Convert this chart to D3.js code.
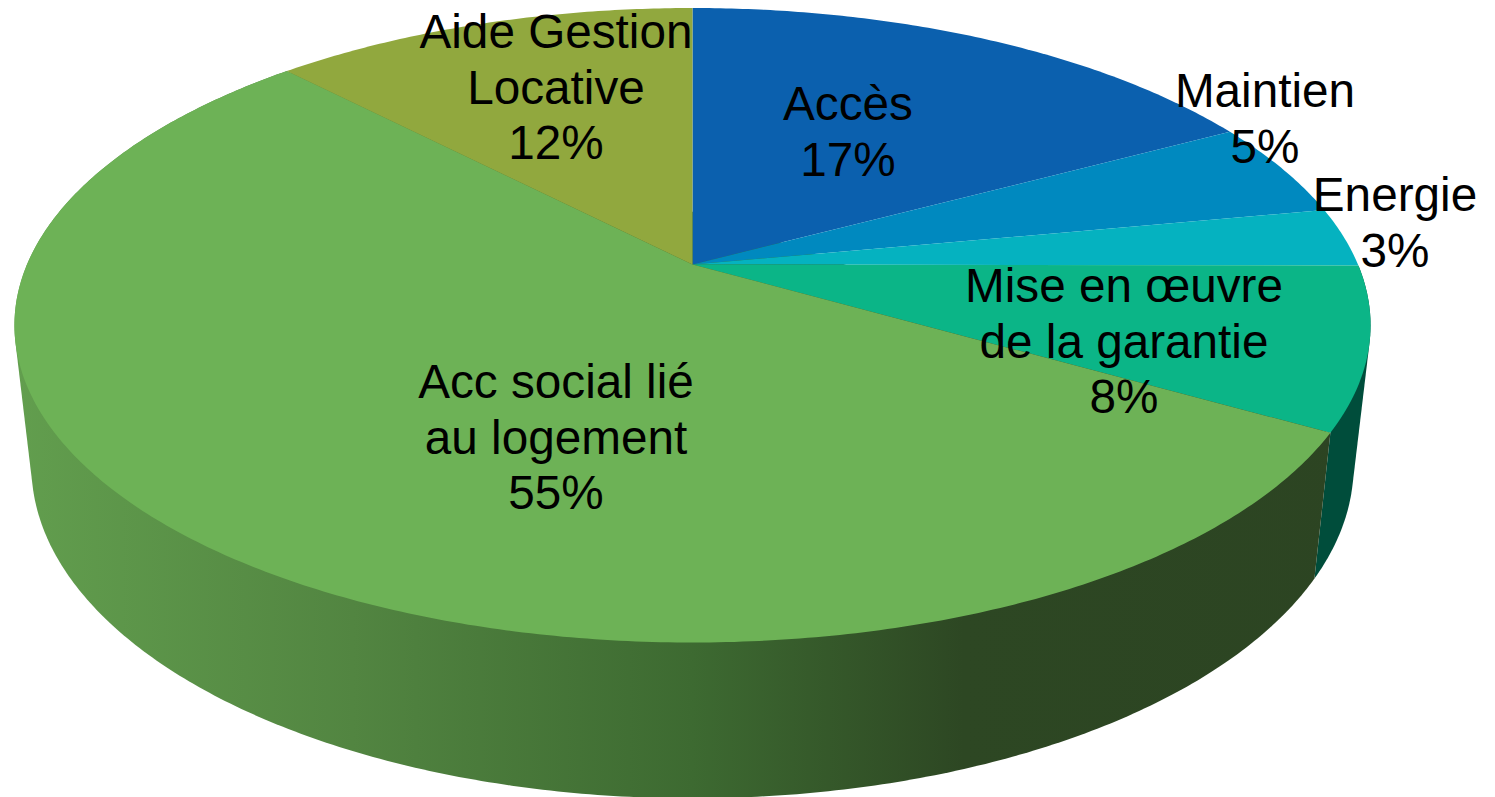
<!DOCTYPE html>
<html>
<head>
<meta charset="utf-8">
<script src="https://cdn.jsdelivr.net/npm/d3@7"></script>
<style>
  html, body { margin: 0; padding: 0; background: #fff; overflow: hidden; }
  text { font-family: "Liberation Sans", Arial, sans-serif; font-size: 47.7px; fill: #000; }
</style>
</head>
<body>
<div id="chart"></div>
<script>
// chart data (labels show them rounded)
var categories = ["Accès", "Maintien", "Energie", "Mise en œuvre de la garantie", "Acc social lié au logement", "Aide Gestion Locative"];
var values = [17.15, 4.9, 3.0, 8.25, 54.5, 12.2];
var labelLines = [["Accès"], ["Maintien"], ["Energie"], ["Mise en œuvre", "de la garantie"], ["Acc social lié", "au logement"], ["Aide Gestion", "Locative"]];

// styles
var topColors = ["#0b60ae", "#0089bf", "#05b2c0", "#0bb587", "#6db256", "#91a83e"];
var labelPos = [[848, 120], [1265, 107], [1395, 211], [1124, 302], [556, 398], [556, 48]];

// setup dimensions
var width = 1495,
    height = 797,
    lineHeight = 55.5;

// perspective disc: centre of the pie sits above the centre of the ellipse
var cx = 692.5,
    cy = 264.5,
    a = 665.5,
    b = 305.6,
    k = 0.1915;

// wall bottom rim, mapped from the top rim
var bottomScale = 0.975,
    bottomY = 1.048,
    bottomOff = 125;

function rim(t) {
  var u = Math.sin(t), v = -Math.cos(t), w = 1 - k * v;
  return [cx + a * u / w, cy + b * v / w];
}
function bottom(t) {
  var p = rim(t);
  return [cx + bottomScale * (p[0] - cx), bottomY * p[1] + bottomOff];
}
function sweep(t0, t1) {
  var n = Math.max(2, Math.ceil((t1 - t0) / 0.01));
  return d3.range(n + 1).map(function(i) { return t0 + (t1 - t0) * i / n; });
}

// add svg
var svg = d3.select("#chart").append("svg")
  .attr("width", width)
  .attr("height", height)
  .style("display", "block");

// side shading of the large slice
var grad = svg.append("defs").append("linearGradient")
  .attr("id", "wall")
  .attr("gradientUnits", "userSpaceOnUse")
  .attr("x1", 14).attr("x2", 1370).attr("y1", 0).attr("y2", 0);
var wallStops = [[0, "#629e4e"], [0.25, "#528541"], [0.5, "#3d6a31"], [0.7, "#2d4723"], [1, "#2c4422"]];
grad.selectAll("stop")
  .data(wallStops)
  .enter().append("stop")
  .attr("offset", function(d) { return d[0]; })
  .attr("stop-color", function(d) { return d[1]; });

// slices
var arcs = d3.pie().sort(null)(values);
var line = d3.line().curve(d3.curveLinear);

// walls, only the two slices facing the viewer show one
var wallFill = { 3: "#004d3b", 4: "url(#wall)" };
svg.selectAll("path.wall")
  .data(arcs.filter(function(d) { return wallFill[d.index]; }))
  .enter().append("path")
  .attr("class", "wall")
  .attr("fill", function(d) { return wallFill[d.index]; })
  .attr("d", function(d) {
    var ts = sweep(d.startAngle, d.endAngle);
    var hull = d3.polygonHull(ts.map(rim).concat(ts.map(bottom)));
    return line(hull) + "Z";
  });

// top face
svg.selectAll("path.slice")
  .data(arcs)
  .enter().append("path")
  .attr("class", "slice")
  .attr("fill", function(d) { return topColors[d.index]; })
  .attr("d", function(d) {
    return line([[cx, cy]].concat(sweep(d.startAngle, d.endAngle).map(rim))) + "Z";
  });

// labels
var labels = svg.selectAll("text.label")
  .data(arcs)
  .enter().append("text")
  .attr("class", "label")
  .attr("text-anchor", "middle");

labels.selectAll("tspan")
  .data(function(d) {
    return labelLines[d.index].concat(Math.round(d.value) + "%").map(function(s, i) {
      return { text: s, i: i, pos: labelPos[d.index] };
    });
  })
  .enter().append("tspan")
  .attr("x", function(d) { return d.pos[0]; })
  .attr("y", function(d) { return d.pos[1] + d.i * lineHeight; })
  .text(function(d) { return d.text; });
</script>
</body>
</html>
